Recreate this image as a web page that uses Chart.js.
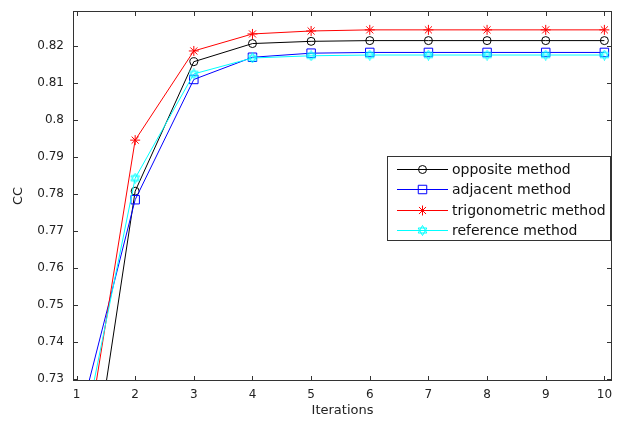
<!DOCTYPE html>
<html lang="en">
<head>
  <meta charset="UTF-8" />
  <title>CC vs Iterations</title>
  <script src="https://cdn.jsdelivr.net/npm/chart.js"></script>
  <style>
    body { margin: 0; background: #fff; }
    #wrap { width: 621px; height: 422px; }
  </style>
</head>
<body>
  <div id="wrap"><canvas id="ccChart"></canvas></div>

  <script>
    // values
    const iterations = [1, 2, 3, 4, 5, 6, 7, 8, 9, 10];
    const yTicks = [0.73, 0.74, 0.75, 0.76, 0.77, 0.78, 0.79, 0.80, 0.81, 0.82];
    const opposite = [0.676, 0.7807, 0.8157, 0.8206, 0.8212, 0.8214, 0.8214, 0.8214, 0.8214, 0.8214];
    const adjacent = [0.716, 0.7784, 0.8109, 0.8169, 0.8180, 0.8182, 0.8182, 0.8182, 0.8182, 0.8182];
    const trigonometric = [0.696, 0.7945, 0.8186, 0.8232, 0.8240, 0.8243, 0.8243, 0.8243, 0.8243, 0.8243];
    const reference = [0.706, 0.7842, 0.8124, 0.8167, 0.8173, 0.8175, 0.8175, 0.8175, 0.8175, 0.8175];

    const FONT = 'DejaVu Sans';

    // matlab style hexagram marker
    function hexagram(color) {
      const c = document.createElement('canvas');
      c.width = 11; c.height = 11;
      const g = c.getContext('2d');
      const r = 5;
      g.strokeStyle = color;
      g.lineWidth = 1;
      [0, Math.PI].forEach(off => {
        g.beginPath();
        for (let k = 0; k < 3; k++) {
          const t = off - Math.PI / 2 + k * 2 * Math.PI / 3;
          const px = 5.5 + r * Math.cos(t), py = 5.5 + r * Math.sin(t);
          k ? g.lineTo(px, py) : g.moveTo(px, py);
        }
        g.closePath();
        g.stroke();
      });
      return c;
    }

    const pts = arr => iterations.map((x, i) => ({ x: x, y: arr[i] }));

    const mk = (label, arr, color, style, radius, order) => ({
      label: label,
      data: pts(arr),
      borderColor: color,
      backgroundColor: 'transparent',
      borderWidth: 1,
      pointStyle: style,
      pointRadius: radius,
      pointBorderColor: color,
      pointBackgroundColor: 'transparent',
      pointBorderWidth: 1,
      tension: 0,
      order: order
    });

    const frame = {
      id: 'frame',
      afterDraw(chart) {
        const { ctx, chartArea: a, scales: { x, y } } = chart;
        ctx.save();
        ctx.strokeStyle = '#333';
        ctx.lineWidth = 1;
        ctx.strokeRect(a.left + 0.5, a.top + 0.5, a.right - a.left - 1, a.bottom - a.top - 1);
        ctx.beginPath();
        iterations.forEach(v => {
          const px = Math.round(x.getPixelForValue(v)) + 0.5;
          ctx.moveTo(px, a.bottom); ctx.lineTo(px, a.bottom - 5);
          ctx.moveTo(px, a.top); ctx.lineTo(px, a.top + 5);
        });
        yTicks.forEach(v => {
          const py = Math.round(y.getPixelForValue(v)) + 0.5;
          ctx.moveTo(a.left, py); ctx.lineTo(a.left + 5, py);
          ctx.moveTo(a.right, py); ctx.lineTo(a.right - 5, py);
        });
        ctx.stroke();

        // legend box
        const lx = a.right - 225, ly = a.top + 145, lw = 223, lh = 84;
        ctx.fillStyle = '#fff';
        ctx.fillRect(lx, ly, lw, lh);
        ctx.strokeStyle = '#333';
        ctx.strokeRect(lx + 0.5, ly + 0.5, lw, lh);
        ctx.font = '14px "' + FONT + '"';
        ctx.textBaseline = 'middle';
        chart.data.datasets.forEach((ds, i) => {
          const cy = Math.round(ly + 12.5 + i * 20.6) + 0.5;
          ctx.fillStyle = 'transparent';
          ctx.strokeStyle = ds.borderColor;
          ctx.lineWidth = 1;
          Chart.helpers.drawPoint(ctx, {
            pointStyle: ds.pointStyle, radius: ds.pointRadius, borderWidth: 1, rotation: 0
          }, lx + 35.5, cy);
          ctx.strokeStyle = ds.borderColor;
          ctx.beginPath();
          ctx.moveTo(lx + 10, cy);
          ctx.lineTo(lx + 61, cy);
          ctx.stroke();
          ctx.fillStyle = '#111';
          ctx.fillText(ds.label, lx + 65, cy + 0.5);
        });
        ctx.restore();
      }
    };

    new Chart(document.getElementById('ccChart'), {
      type: 'line',
      data: {
        datasets: [
          mk('opposite method', opposite, '#000000', 'circle', 4, 4),
          mk('adjacent method', adjacent, '#0000ff', 'rect', 6, 3),
          mk('trigonometric method', trigonometric, '#ff0000', 'star', 5, 2),
          mk('reference method', reference, '#00ffff', hexagram('#00ffff'), 5, 1)
        ]
      },
      options: {
        responsive: true,
        maintainAspectRatio: false,
        animation: false,
        layout: { padding: { top: 11, right: 9, left: 0, bottom: 0 } },
        plugins: { legend: { display: false }, tooltip: { enabled: false } },
        scales: {
          x: {
            type: 'linear',
            min: 0.94,
            max: 10.13,
            afterFit: s => { s.height = 41; s.paddingLeft = 0; s.paddingRight = 0; },
            afterBuildTicks: s => { s.ticks = iterations.map(v => ({ value: v })); },
            grid: { display: false, drawTicks: false },
            border: { display: false },
            ticks: {
              padding: 7,
              color: '#222',
              font: { family: FONT, size: 12 },
              maxRotation: 0,
              callback: v => String(v)
            },
            title: {
              display: true,
              text: 'Iterations',
              color: '#222',
              font: { family: FONT, size: 13 },
              padding: { top: 0, bottom: 4 }
            }
          },
          y: {
            min: 0.7294,
            max: 0.8294,
            afterFit: s => { s.width = 73; s.paddingTop = 0; s.paddingBottom = 0; },
            afterBuildTicks: s => { s.ticks = yTicks.map(v => ({ value: v })); },
            grid: { display: false, drawTicks: false },
            border: { display: false },
            ticks: {
              padding: 9,
              color: '#222',
              font: { family: FONT, size: 12 },
              callback: v => String(parseFloat(v.toFixed(2)))
            },
            title: {
              display: true,
              text: 'CC',
              color: '#222',
              font: { family: FONT, size: 13 },
              padding: { top: 11, bottom: 0 }
            }
          }
        }
      },
      plugins: [frame]
    });
  </script>
</body>
</html>
